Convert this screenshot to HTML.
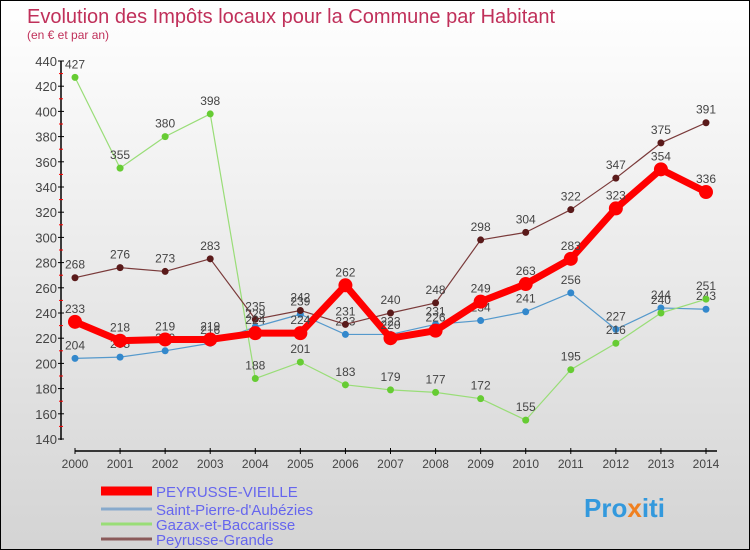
<!DOCTYPE html>
<html><head><meta charset="utf-8"><style>
body{margin:0}
#c{width:748px;height:548px;border:1px solid #000;position:relative;overflow:hidden;background:linear-gradient(#ffffff,#d4d4d4);font-family:"Liberation Sans",sans-serif}
</style></head><body>
<div id="c">
<svg width="748" height="548" id="s">
<text x="26" y="22" font-size="20" fill="#c0305a">Evolution des Impôts locaux pour la Commune par Habitant</text>
<text x="26" y="38" font-size="12" fill="#c0305a">(en € et par an)</text>
<g id="ax"></g><g id="ser"></g><g id="leg"></g>
<text x="583" y="516" font-size="26" font-weight="bold" fill="#3399dd">Pro<tspan fill="#f08020">x</tspan>iti</text>
</svg></div>
<script>
const years=[2000,2001,2002,2003,2004,2005,2006,2007,2008,2009,2010,2011,2012,2013,2014];
const yTicks=[140,160,180,200,220,240,260,280,300,320,340,360,380,400,420,440];
const names=["PEYRUSSE-VIEILLE","Saint-Pierre-d'Aubézies","Gazax-et-Baccarisse","Peyrusse-Grande"];
const pv=[233,218,219,219,224,224,262,220,226,249,263,283,323,354,336];
const sp=[204,205,210,216,229,239,223,223,231,234,241,256,227,244,243];
const gz=[427,355,380,398,188,201,183,179,177,172,155,195,216,240,251];
const pg=[268,276,273,283,235,242,231,240,248,298,304,322,347,375,391];
const NS="http://www.w3.org/2000/svg";
const X=i=>74+i*(705-74)/14, Y=v=>60+(440-v)*(378/300);
function mk(t,a,p){const e=document.createElementNS(NS,t);for(const k in a)e.setAttribute(k,a[k]);p.appendChild(e);return e;}
const ax=document.getElementById('ax');
let l=mk('line',{x1:60,y1:60,x2:60,y2:439,stroke:'#000','stroke-width':1.5},ax);

yTicks.forEach(v=>{mk('line',{x1:57,x2:63,y1:Y(v),y2:Y(v),stroke:'#000'},ax);
if(v<440)mk('line',{x1:58,x2:62,y1:Y(v+10),y2:Y(v+10),stroke:'#f00'},ax);
const t=mk('text',{x:56,y:Y(v)+5,'text-anchor':'end','font-size':13,fill:'#444'},ax);t.textContent=v;
});
l=mk('line',{x1:74,y1:450,x2:716,y2:450,stroke:'#000','stroke-width':1.5},ax);

years.forEach((y,i)=>{mk('line',{x1:X(i),x2:X(i),y1:447,y2:453,stroke:'#000'},ax);
const t=mk('text',{x:X(i),y:467,'text-anchor':'middle','font-size':12,fill:'#444'},ax);t.textContent=y;
});
const ser=document.getElementById('ser');
const defs=[[sp,'#5599cc',1.2,3.5,'#3388cc'],[gz,'#99dd77',1.2,3.5,'#66cc33'],[pg,'#7a3a3a',1.2,3.5,'#5a1a1a'],[pv,'#ff0000',7,7,'#ff0000']];
const order=[1,2,3,0];
defs.forEach((d,k)=>{const g=mk('g',{},ser);

const p=mk('polyline',{points:d[0].map((v,i)=>X(i)+','+Y(v)).join(' '),fill:'none',stroke:d[1],'stroke-width':d[2],'stroke-linejoin':'round'},g);

d[0].forEach((v,i)=>{const c=mk('circle',{cx:X(i),cy:Y(v),r:d[3],fill:d[4]},g);

const t=mk('text',{x:X(i),y:Y(v)-9,'text-anchor':'middle','font-size':12,fill:'#444'},g);t.textContent=v;
});});
const leg=document.getElementById('leg');
const lc=[['#ff0000',9],['#88aacc',3],['#99dd77',3],['#8a5a5a',3]];
[490,508,523,538].forEach((y,i)=>{const g=mk('g',{},leg);

mk('line',{x1:100,x2:151,y1:y,y2:y,stroke:lc[i][0],'stroke-width':lc[i][1]},g);
const t=mk('text',{x:155,y:y+6,'font-size':15,fill:'#6666ee'},g);t.textContent=names[i];});
</script></body></html>
